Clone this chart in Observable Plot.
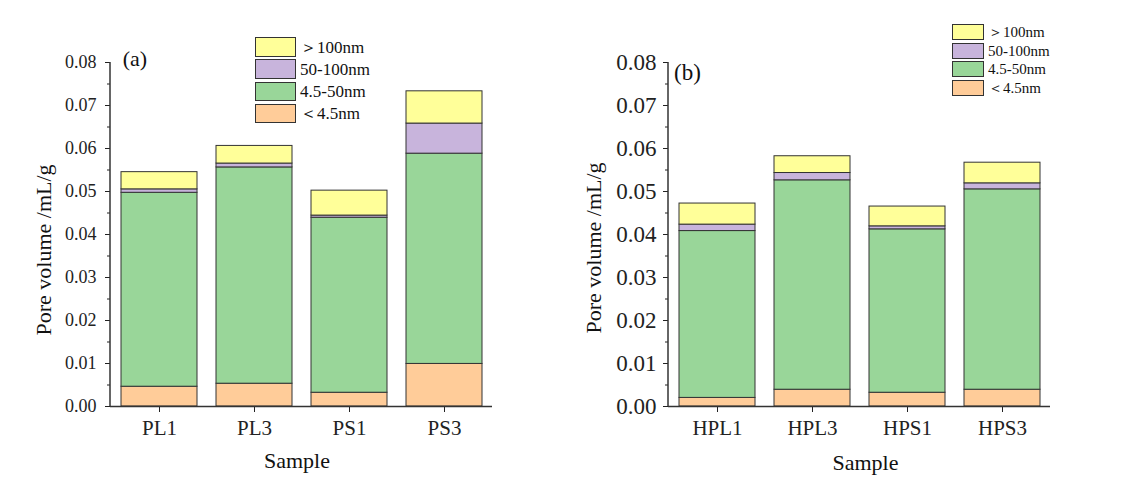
<!DOCTYPE html>
<html><head><meta charset="utf-8">
<script src="https://cdn.jsdelivr.net/npm/d3@7"></script>
<script src="https://cdn.jsdelivr.net/npm/@observablehq/plot@0.6"></script>
<style>
body{margin:0;background:#fff;}
#wrap{position:relative;width:1135px;height:494px;font-family:"Liberation Serif","Times New Roman",serif;color:#111;overflow:hidden;}
.abs{position:absolute;white-space:nowrap;line-height:1;}
.box{position:absolute;box-sizing:border-box;border:1px solid #333;}
</style></head><body><div id="wrap"></div>
<script>
// ---- data ----
const poreClasses = ["<4.5nm", "4.5-50nm", "50-100nm", ">100nm"];
const legendLabels = ["＜4.5nm", "4.5-50nm", "50-100nm", "＞100nm"];
const classColors = ["#ffcc99", "#99d699", "#c8b4dc", "#ffff99"];

const samplesA = ["PL1", "PL3", "PS1", "PS3"];
const a_lt45   = [0.0046, 0.0053, 0.0032, 0.0099];
const a_45_50  = [0.0451, 0.0503, 0.0407, 0.0489];
const a_50_100 = [0.0008, 0.0009, 0.0005, 0.0070];
const a_gt100  = [0.0040, 0.0041, 0.0058, 0.0075];

const samplesB = ["HPL1", "HPL3", "HPS1", "HPS3"];
const b_lt45   = [0.0020, 0.0039, 0.0032, 0.0039];
const b_45_50  = [0.0388, 0.0487, 0.0380, 0.0466];
const b_50_100 = [0.0015, 0.0017, 0.0007, 0.0014];
const b_gt100  = [0.0049, 0.0039, 0.0046, 0.0048];

const yTicks = [0.00, 0.01, 0.02, 0.03, 0.04, 0.05, 0.06, 0.07, 0.08];
const yMinor = [0.005, 0.015, 0.025, 0.035, 0.045, 0.055, 0.065, 0.075];

const yTitle = "Pore volume /mL/g";
const xTitle = "Sample";

// ---- build ----
function longForm(samples, series) {
  const out = [];
  samples.forEach((s, i) => poreClasses.forEach((c, j) => out.push({sample: s, cls: c, v: series[j][i]})));
  return out;
}

function panel(cfg) {
  const data = longForm(cfg.samples, cfg.series);
  const svg = Plot.plot({
    width: cfg.width, height: 494,
    marginLeft: cfg.ml, marginRight: cfg.mr, marginTop: 62, marginBottom: 88,
    style: {fontFamily: '"Liberation Serif", "Times New Roman", serif', color: "#222", background: "transparent", overflow: "visible"},
    x: {domain: cfg.samples, paddingInner: 0.2, paddingOuter: 0.1, label: null, axis: null},
    y: {domain: [0, 0.08], label: null, axis: null},
    color: {domain: poreClasses, range: classColors},
    marks: [
      Plot.barY(data, {x: "sample", y: "v", fill: "cls", stroke: "#333", strokeWidth: 1, order: poreClasses}),
      Plot.axisY({ticks: yTicks, tickFormat: d3.format(".2f"), tickSize: 5, tickPadding: cfg.yPad, fontSize: cfg.yFont, label: null}),
      Plot.axisY({ticks: yMinor, tickFormat: () => "", tickSize: 3, label: null}),
      Plot.axisX({tickSize: 6, tickPadding: 8, fontSize: 21, label: null}),
      Plot.ruleY([0], {stroke: "#333", strokeWidth: 1.5})
    ]
  });
  // y axis line along the left edge of the frame
  d3.select(svg).append("line")
    .attr("x1", cfg.ml).attr("x2", cfg.ml)
    .attr("y1", 62).attr("y2", 494 - 88)
    .attr("stroke", "#333").attr("stroke-width", 1.5);
  svg.style.position = "absolute";
  svg.style.left = cfg.left + "px";
  svg.style.top = "0px";
  return svg;
}

const wrap = document.getElementById("wrap");
wrap.appendChild(panel({samples: samplesA, series: [a_lt45, a_45_50, a_50_100, a_gt100],
  width: 560, left: 0, ml: 110, mr: 68, yFont: 18, yPad: 9}));
wrap.appendChild(panel({samples: samplesB, series: [b_lt45, b_45_50, b_50_100, b_gt100],
  width: 575, left: 560, ml: 108, mr: 85, yFont: 23, yPad: 7}));

function addText(txt, x, y, fs, extra) {
  const d = document.createElement("div");
  d.className = "abs";
  d.textContent = txt;
  d.style.left = x + "px";
  d.style.top = y + "px";
  d.style.fontSize = fs + "px";
  if (extra) Object.assign(d.style, extra);
  wrap.appendChild(d);
  return d;
}

// panel labels
addText("(a)", 122.7, 66 - 0.84 * 22, 22);
addText("(b)", 674, 80 - 0.84 * 23, 23);
// x titles
addText(xTitle, 297, 468 - 0.84 * 22, 22, {transform: "translateX(-50%)"});
addText(xTitle, 865.5, 470.5 - 0.84 * 22, 22, {transform: "translateX(-50%)"});
// y titles
addText(yTitle, 44, 250, 22, {transform: "translate(-50%,-50%) rotate(-90deg)"});
addText(yTitle, 594, 248, 22, {transform: "translate(-50%,-50%) rotate(-90deg)"});

// legends
function legend(x, y, w, h, step, tx, fs) {
  const order = [3, 2, 1, 0];
  order.forEach((k, i) => {
    const b = document.createElement("div");
    b.className = "box";
    b.style.left = x + "px"; b.style.top = (y + i * step) + "px";
    b.style.width = w + "px"; b.style.height = h + "px";
    b.style.background = classColors[k];
    wrap.appendChild(b);
    addText(legendLabels[k], tx, y + i * step + h / 2, fs, {transform: "translateY(-50%)"});
  });
}
legend(255, 37.3, 41, 19.5, 22.1, 300, 17);
legend(952, 24, 32, 16, 18.7, 988, 15);
</script>
</body></html>
